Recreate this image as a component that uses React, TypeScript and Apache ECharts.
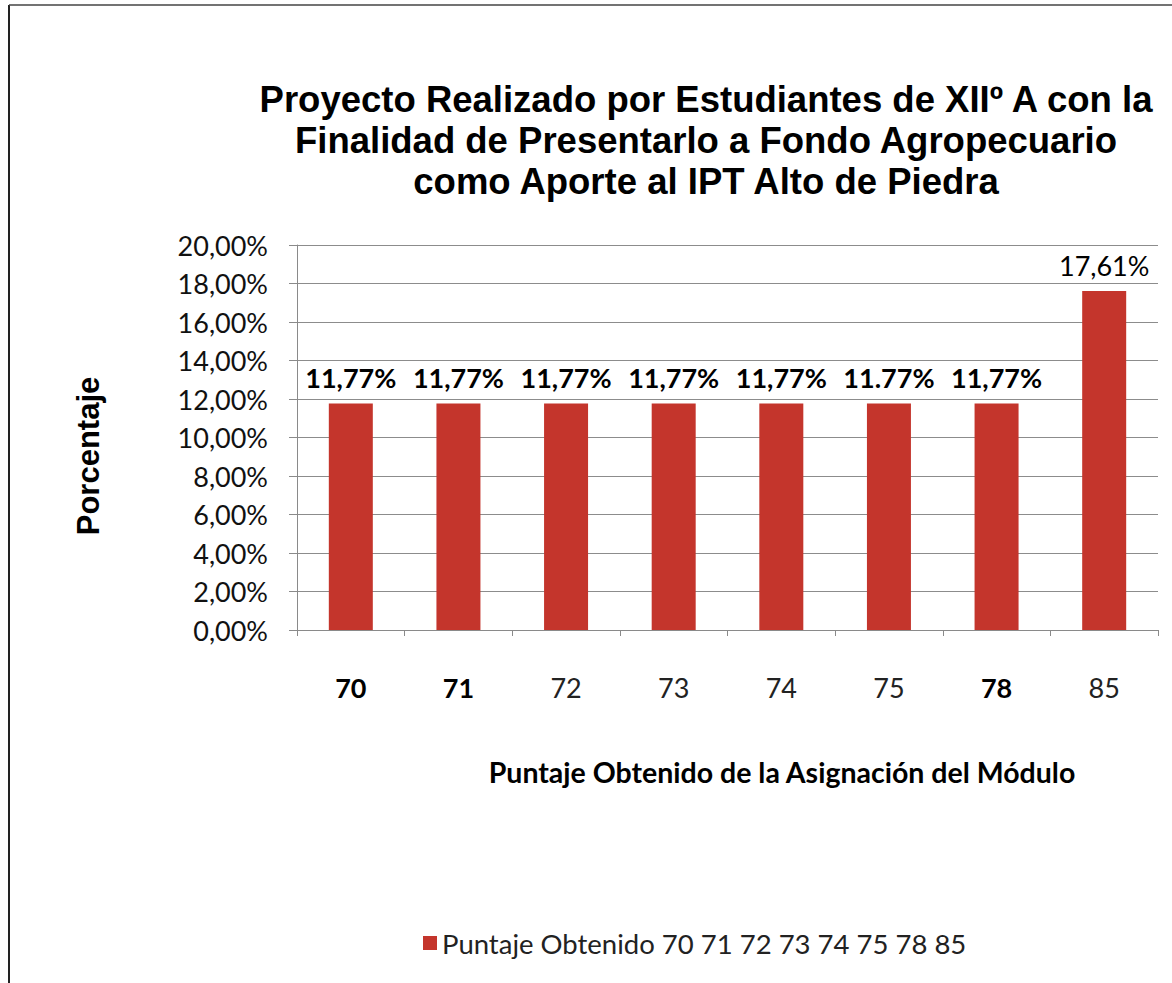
import React, { useEffect, useRef } from "react";
import * as echarts from "echarts";

const categories = ["70", "71", "72", "73", "74", "75", "78", "85"];
const boldCategories = ["70", "71", "78"];
const values = [11.77, 11.77, 11.77, 11.77, 11.77, 11.77, 11.77, 17.61];
const valueLabels = ["11,77%", "11,77%", "11,77%", "11,77%", "11,77%", "11.77%", "11,77%", "17,61%"];
const boldValueLabels = [true, true, true, true, true, true, true, false];
const seriesName = "Puntaje Obtenido 70 71 72 73 74 75 78 85";
const titleText = "Proyecto Realizado por Estudiantes de XIIº A con la\nFinalidad de Presentarlo a Fondo Agropecuario\ncomo Aporte al IPT Alto de Piedra";
const yAxisTitle = "Porcentaje";
const xAxisTitle = "Puntaje Obtenido de la Asignación del Módulo";

const LABEL_FONT = "Lato, 'Noto Sans', sans-serif";
const TITLE_FONT = "'Liberation Sans', Arial, sans-serif";

export default function App() {
  const ref = useRef<HTMLDivElement>(null);
  useEffect(() => {
    document.body.style.margin = "0";
    const chart = echarts.init(ref.current!, undefined, { renderer: "svg" });
    chart.setOption({
      animation: false,
      backgroundColor: "#ffffff",
      title: {
        text: titleText,
        left: 701,
        top: 74,
        textAlign: "center",
        textStyle: {
          fontFamily: TITLE_FONT,
          fontWeight: "bold",
          fontSize: 36.5,
          lineHeight: 41,
          color: "#000",
        },
      },
      grid: { left: 297, right: 14, top: 245, bottom: 353, containLabel: false },
      legend: {
        left: 418,
        top: 924,
        icon: "rect",
        itemWidth: 14,
        itemHeight: 14,
        itemGap: 6,
        textStyle: { fontFamily: LABEL_FONT, fontSize: 27.5, color: "#222" },
        data: [seriesName],
      },
      xAxis: {
        type: "category",
        data: categories,
        axisLine: { show: true, lineStyle: { color: "#8a8a8a", width: 1 } },
        axisTick: { show: true, length: 6, inside: false, lineStyle: { color: "#8a8a8a" } },
        axisLabel: {
          margin: 44,
          fontFamily: LABEL_FONT,
          fontSize: 27,
          color: "#111",
          formatter: (v: string) => (boldCategories.includes(v) ? `{b|${v}}` : `{n|${v}}`),
          rich: {
            b: { fontFamily: LABEL_FONT, fontSize: 27, fontWeight: "bold", color: "#000" },
            n: { fontFamily: LABEL_FONT, fontSize: 27, color: "#222" },
          },
        },
      },
      yAxis: {
        type: "value",
        min: 0,
        max: 20,
        interval: 2,
        axisLine: { show: true, lineStyle: { color: "#8a8a8a", width: 1 } },
        axisTick: { show: true, length: 8, inside: false, lineStyle: { color: "#8a8a8a" } },
        splitLine: { show: true, lineStyle: { color: "#8c8c8c", width: 1 } },
        axisLabel: {
          margin: 29,
          fontFamily: LABEL_FONT,
          fontSize: 27,
          color: "#111",
          formatter: (v: number) => v.toFixed(2).replace(".", ",") + "%",
        },
      },
      series: [
        {
          name: seriesName,
          type: "bar",
          barWidth: 44,
          itemStyle: { color: "#c4352c" },
          data: values.map((v, i) => ({
            value: v,
            label: {
              show: true,
              position: "top",
              distance: 12,
              formatter: valueLabels[i],
              fontFamily: LABEL_FONT,
              fontSize: 27,
              fontWeight: boldValueLabels[i] ? "bold" : "normal",
              color: "#000",
            },
          })),
        },
      ],
      graphic: [
        { type: "line", shape: { x1: 9, y1: 5, x2: 9, y2: 983 }, style: { stroke: "#222", lineWidth: 2 } },
        { type: "line", shape: { x1: 9, y1: 5, x2: 1172, y2: 5 }, style: { stroke: "#444", lineWidth: 1.5 } },
        {
          type: "text",
          x: 88,
          y: 456,
          rotation: Math.PI / 2,
          style: {
            text: yAxisTitle,
            fontFamily: TITLE_FONT,
            fontWeight: "bold",
            fontSize: 31,
            fill: "#000",
            textAlign: "center",
            textVerticalAlign: "middle",
          },
        },
        {
          type: "text",
          x: 782,
          y: 772,
          style: {
            text: xAxisTitle,
            fontFamily: LABEL_FONT,
            fontWeight: "bold",
            fontSize: 28.5,
            fill: "#000",
            textAlign: "center",
            textVerticalAlign: "middle",
          },
        },
      ],
    });
    return () => chart.dispose();
  }, []);
  return <div ref={ref} style={{ width: 1172, height: 983 }} />;
}
